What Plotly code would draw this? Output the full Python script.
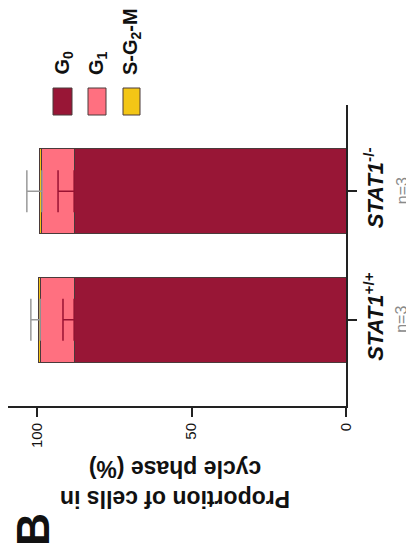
import plotly.graph_objects as go

# ---------------- data ----------------
categories = ["STAT1+/+", "STAT1-/-"]
gene_names = ["STAT1", "STAT1"]
genotype_sup = ["+/+", "-/-"]
n_labels = ["n=3", "n=3"]

g0 = [88.0, 88.0]
g1 = [11.0, 10.4]
sg2m = [0.4, 0.8]
g0_sd = [3.6, 5.2]
g1_sd = [3.0, 4.9]

x_ticks = [0, 50, 100]
x_ticklabels = ["0", "50", "100"]
phase_labels = ["G<sub>0</sub>", "G<sub>1</sub>", "S-G<sub>2</sub>-M"]
axis_title = "Proportion of cells in<br>cycle phase (%)"
panel_letter = "B"

# ---------------- style ----------------
C_G0 = "#981636"
C_G1 = "#ff7080"
C_S = "#f3c616"
C_OUT = "#4a3a3a"
C_AX = "#222222"
FONT = "Liberation Sans, Arial, sans-serif"

# the page body has an 8px margin, so the figure is offset by 8px on screen
OFF = 8
W, H = 414 - OFF, 559 - OFF
ML, MR, MT, MB = 0, 68, 97, 153
PW = W - ML - MR
PH = H - MT - MB


def px_x(sx):
    """screen x pixel -> paper coordinate"""
    return (sx - OFF - ML) / PW


def px_y(sy):
    """screen y pixel -> paper coordinate"""
    return (H - MB - (sy - OFF)) / PH


fig = go.Figure()
for vals, col in zip([g0, g1, sg2m], [C_G0, C_G1, C_S]):
    fig.add_trace(go.Bar(
        x=vals, y=categories, orientation="h", width=0.66,
        marker=dict(color=col, line=dict(color=C_OUT, width=1)),
        hoverinfo="skip",
    ))

# error bars (one-sided, outward) at the top of each stacked segment
g0_top = list(g0)
g1_top = [a + b for a, b in zip(g0, g1)]
for xs, sd, col in [(g0_top, g0_sd, "#9a1232"), (g1_top, g1_sd, "#9a9a9a")]:
    fig.add_trace(go.Scatter(
        x=xs, y=categories, mode="markers",
        marker=dict(size=1, opacity=0),
        error_x=dict(type="data", array=sd, arrayminus=[0] * len(sd),
                     symmetric=False, color=col, thickness=1.5, width=21),
        hoverinfo="skip",
    ))

ticktext = [f"<b><i>{g}</i><sup>{s}</sup></b>" for g, s in zip(gene_names, genotype_sup)]

fig.update_layout(
    width=W, height=H,
    margin=dict(l=ML, r=MR, t=MT, b=MB, pad=0, autoexpand=False),
    barmode="stack", showlegend=False,
    plot_bgcolor="white", paper_bgcolor="white",
    font=dict(family=FONT, color="#111111"),
    xaxis=dict(
        range=[109.4, 0], tickvals=x_ticks, ticktext=x_ticklabels,
        tickangle=-90, ticks="outside", ticklen=9, tickwidth=2, tickcolor=C_AX,
        showline=True, linewidth=2, linecolor=C_AX, showgrid=False, zeroline=False,
        tickfont=dict(size=15, family=FONT, color="#111"), automargin=False,
    ),
    yaxis=dict(
        type="category", categoryorder="array", categoryarray=categories,
        range=[-0.67, 1.67], side="right",
        tickvals=categories, ticktext=ticktext, tickangle=-90,
        ticks="outside", ticklen=9, tickwidth=2, tickcolor=C_AX,
        showline=True, linewidth=2, linecolor=C_AX, showgrid=False, zeroline=False,
        tickfont=dict(size=22, family=FONT, color="#111"), automargin=False,
    ),
)

# sample sizes under each genotype label
for cat, n in zip(categories, n_labels):
    fig.add_annotation(
        text=n, xref="paper", yref="y", x=px_x(402), y=cat,
        xanchor="center", yanchor="middle", textangle=-90, showarrow=False,
        font=dict(size=16, family=FONT, color="#8a8a8a"),
    )

# axis title (upside down, as in the reference)
fig.add_annotation(
    text=f"<b>{axis_title}</b>", xref="paper", yref="paper",
    x=px_x(175), y=px_y(484), xanchor="center", yanchor="middle",
    textangle=180, showarrow=False, font=dict(size=23, family=FONT, color="#111"),
)

# panel letter
fig.add_annotation(
    text=f"<b>{panel_letter}</b>", xref="paper", yref="paper",
    x=px_x(33), y=px_y(530), xanchor="center", yanchor="middle",
    textangle=-90, showarrow=False, font=dict(size=46, family=FONT, color="#111"),
)

# manual rotated legend
sw_x = [(53, 72), (88, 106), (123, 140)]
for (x0, x1), col, lab in zip(sw_x, [C_G0, C_G1, C_S], phase_labels):
    fig.add_shape(type="rect", xref="paper", yref="paper",
                  x0=px_x(x0), x1=px_x(x1), y0=px_y(115), y1=px_y(88),
                  fillcolor=col, line=dict(color=C_OUT, width=1))
    fig.add_annotation(
        text=f"<b>{lab}</b>", xref="paper", yref="paper",
        x=px_x((x0 + x1) / 2), y=px_y(77), xanchor="center", yanchor="bottom",
        textangle=-90, showarrow=False, font=dict(size=20, family=FONT, color="#111"),
    )

fig.write_html("out.html")
